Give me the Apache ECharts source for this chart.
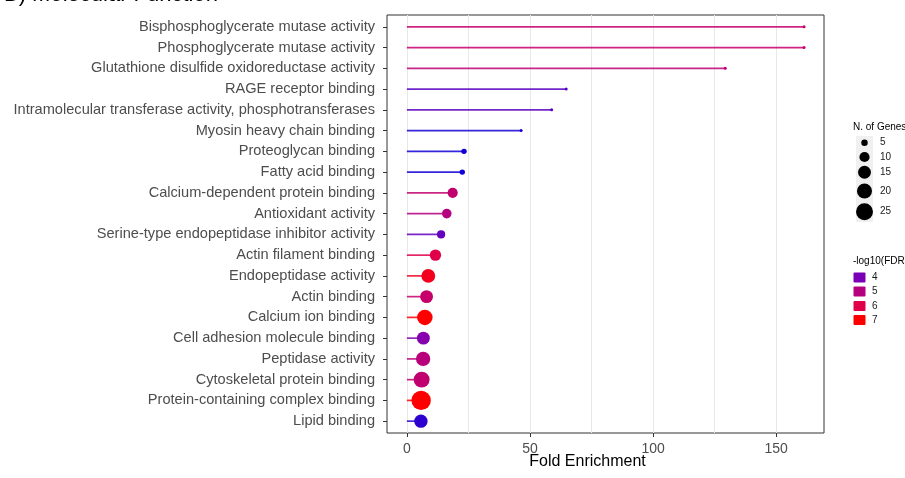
<!DOCTYPE html>
<html><head><meta charset="utf-8">
<script src="https://cdn.jsdelivr.net/npm/echarts@6/dist/echarts.min.js"></script>
<style>html,body{margin:0;padding:0;background:#fff}#c{width:905px;height:478px}</style>
</head><body><div id="c"></div><script>
const categories = [
  'Bisphosphoglycerate mutase activity',
  'Phosphoglycerate mutase activity',
  'Glutathione disulfide oxidoreductase activity',
  'RAGE receptor binding',
  'Intramolecular transferase activity, phosphotransferases',
  'Myosin heavy chain binding',
  'Proteoglycan binding',
  'Fatty acid binding',
  'Calcium-dependent protein binding',
  'Antioxidant activity',
  'Serine-type endopeptidase inhibitor activity',
  'Actin filament binding',
  'Endopeptidase activity',
  'Actin binding',
  'Calcium ion binding',
  'Cell adhesion molecule binding',
  'Peptidase activity',
  'Cytoskeletal protein binding',
  'Protein-containing complex binding',
  'Lipid binding'
];
const foldEnrichment = [161.3, 161.3, 129.3, 64.7, 58.8, 46.4, 23.2, 22.5, 18.6, 16.2, 13.9, 11.6, 8.7, 8.0, 7.3, 6.7, 6.6, 6.0, 5.8, 5.7];
const geneCounts = [2, 2, 2, 2, 2, 2, 4, 4, 10, 9, 7, 12, 17, 15, 21, 15, 18, 22, 32, 16];
const negLog10FDR = [5.4, 5.4, 5.2, 3.7, 3.7, 3.1, 3.05, 3.05, 5.3, 5.0, 3.8, 6.0, 6.6, 5.4, 7.2, 4.2, 5.1, 5.3, 7.1, 3.3];
const xLabelTicks = [0, 50, 100, 150];
const xGridBreaks = [0, 25, 50, 75, 100, 125, 150];
const sizeBreaks = [5, 10, 15, 20, 25];
const colorBreaks = [4, 5, 6, 7];
const colorStops = ['#0A00D8', '#7A00B8', '#B4007F', '#E0004A', '#FF0000'];
const fdrMin = 3, fdrMax = 7;

const FONT = '"Liberation Sans", Arial, Helvetica, sans-serif';
function sizeFn(n) { return Math.sqrt(Math.max(9, 12.35 * n - 19.7)); }
function hex2rgb(h) { return [parseInt(h.slice(1,3),16), parseInt(h.slice(3,5),16), parseInt(h.slice(5,7),16)]; }
function colorFor(v) {
  let t = (v - fdrMin) / (fdrMax - fdrMin); t = Math.max(0, Math.min(1, t));
  const s = t * (colorStops.length - 1); const i = Math.min(Math.floor(s), colorStops.length - 2); const f = s - i;
  const a = hex2rgb(colorStops[i]), b = hex2rgb(colorStops[i+1]);
  return 'rgb(' + a.map((x, k) => Math.round(x + (b[k] - x) * f)).join(',') + ')';
}

const data = categories.map((c, i) => [foldEnrichment[i], i, geneCounts[i], negLog10FDR[i]]);
const idx = categories.map((c, i) => i);

const chart = echarts.init(document.getElementById('c'), null, {renderer: 'canvas'});

const g = [];
g.push({type: 'text', left: 853, top: 122, style: {text: 'N. of Genes', font: '10px ' + FONT, fill: '#000'}});
g.push({type: 'rect', shape: {x: 856, y: 136, width: 17, height: 86}, style: {fill: '#f0f0f0'}});
const sizeRowY = [142.7, 157, 172.3, 191, 211.7];
sizeBreaks.forEach((n, k) => {
  g.push({type: 'circle', shape: {cx: 864.5, cy: sizeRowY[k], r: sizeFn(n) / 2}, style: {fill: '#000'}});
  g.push({type: 'text', x: 880, y: sizeRowY[k], style: {text: String(n), font: '10px ' + FONT, fill: '#1a1a1a', verticalAlign: 'middle'}});
});
g.push({type: 'text', x: 853, y: 256, style: {text: '-log10(FDR)', font: '10px ' + FONT, fill: '#000'}});
const colRowY = [277.5, 291.5, 306, 320];
colorBreaks.forEach((v, k) => {
  g.push({type: 'rect', shape: {x: 853.5, y: colRowY[k] - 5, width: 12, height: 10, r: 1}, style: {fill: colorFor(v)}});
  g.push({type: 'text', x: 872, y: colRowY[k], style: {text: String(v), font: '10px ' + FONT, fill: '#1a1a1a', verticalAlign: 'middle'}});
});
g.push({type: 'text', x: 587.5, y: 462, style: {text: 'Fold Enrichment', font: '16px ' + FONT, fill: '#000', align: 'center', verticalAlign: 'middle'}});
g.push({type: 'text', x: 4, y: 6, style: {text: 'B) Molecular Function', font: '22px ' + FONT, fill: '#000', verticalAlign: 'bottom'}});

chart.setOption({
  animation: false,
  backgroundColor: '#fff',
  grid: {left: 387, right: 81, top: 15, bottom: 45, show: true, borderColor: '#333', borderWidth: 1, backgroundColor: '#fff'},
  xAxis: [{
    type: 'value', min: -8.07, max: 169.4, position: 'bottom',
    axisLine: {show: false, onZero: false},
    axisTick: {show: true, length: 4, lineStyle: {color: '#333'}, customValues: xLabelTicks},
    axisLabel: {customValues: xLabelTicks, color: '#4d4d4d', fontSize: 14, fontFamily: FONT, margin: 9},
    splitLine: {show: false}
  }, {
    type: 'value', min: -8.07, max: 169.4, position: 'top',
    axisLine: {show: false, onZero: false}, axisLabel: {show: false},
    axisTick: {show: false, customValues: xGridBreaks},
    splitLine: {show: true, lineStyle: {color: '#e8e8e8', width: 1}}
  }],
  yAxis: {
    type: 'value', min: -0.57, max: 19.57, inverse: true, position: 'left',
    axisLine: {show: false, onZero: false},
    axisTick: {show: true, length: 4, lineStyle: {color: '#333'}, customValues: idx},
    axisLabel: {customValues: idx, formatter: v => categories[Math.round(v)], color: '#4d4d4d', fontSize: 14.6, fontFamily: FONT, margin: 12},
    splitLine: {show: false}
  },
  visualMap: {
    type: 'continuous', show: false, min: fdrMin, max: fdrMax, dimension: 3, seriesIndex: [0, 1],
    inRange: {color: colorStops}
  },
  series: [{
    type: 'custom', xAxisIndex: 0, data: data, encode: {x: 0, y: 1}, z: 2,
    renderItem: (params, api) => {
      const p0 = api.coord([0, api.value(1)]);
      const p1 = api.coord([api.value(0), api.value(1)]);
      return {type: 'line', shape: {x1: p0[0], y1: p0[1], x2: p1[0], y2: p1[1]}, style: {stroke: api.visual('color'), lineWidth: 1.7, opacity: 0.85}};
    }
  }, {
    type: 'scatter', xAxisIndex: 0, data: data, encode: {x: 0, y: 1}, z: 3,
    symbol: 'circle', symbolSize: v => sizeFn(v[2]),
    itemStyle: {opacity: 1}
  }],
  graphic: g
});
</script></body></html>
